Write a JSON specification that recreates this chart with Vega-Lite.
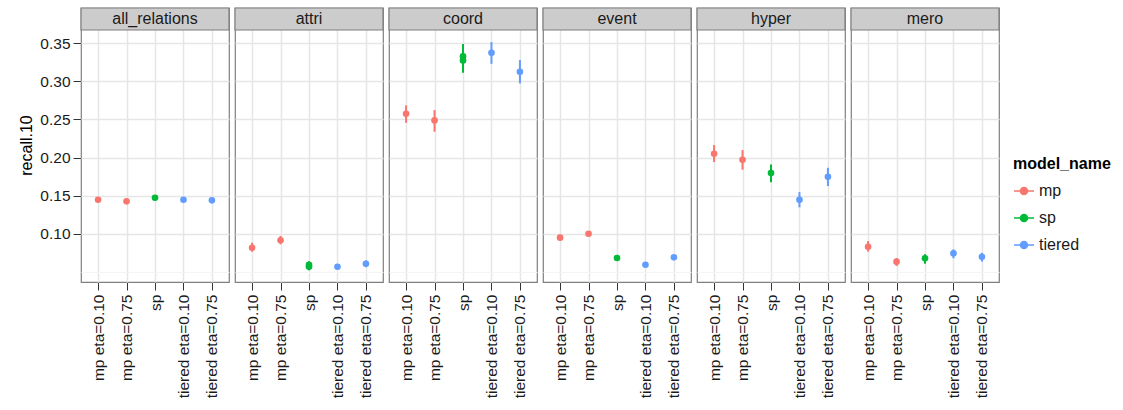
{
  "$schema": "https://vega.github.io/schema/vega-lite/v6.json",
  "padding": {"left": 18, "top": 6, "right": 5, "bottom": 2},
  "background": "white",
  "bounds": "flush",
  "data": {"values": [
      {"relation": "all_relations", "model": "mp eta=0.10", "model_name": "mp", "recall": 0.1446, "lo": 0.1428, "hi": 0.1464},
      {"relation": "all_relations", "model": "mp eta=0.75", "model_name": "mp", "recall": 0.1425, "lo": 0.1407, "hi": 0.1443},
      {"relation": "all_relations", "model": "sp", "model_name": "sp", "recall": 0.1473, "lo": 0.1456, "hi": 0.149},
      {"relation": "all_relations", "model": "tiered eta=0.10", "model_name": "tiered", "recall": 0.1446, "lo": 0.1429, "hi": 0.1463},
      {"relation": "all_relations", "model": "tiered eta=0.75", "model_name": "tiered", "recall": 0.1438, "lo": 0.1421, "hi": 0.1455},

      {"relation": "attri", "model": "mp eta=0.10", "model_name": "mp", "recall": 0.0816, "lo": 0.0764, "hi": 0.0882},
      {"relation": "attri", "model": "mp eta=0.75", "model_name": "mp", "recall": 0.0913, "lo": 0.086, "hi": 0.097},
      {"relation": "attri", "model": "sp", "model_name": "sp", "recall": 0.059, "lo": 0.053, "hi": 0.064},
      {"relation": "attri", "model": "sp", "model_name": "sp", "recall": 0.0565, "lo": 0.052, "hi": 0.062},
      {"relation": "attri", "model": "tiered eta=0.10", "model_name": "tiered", "recall": 0.0567, "lo": 0.0535, "hi": 0.06},
      {"relation": "attri", "model": "tiered eta=0.75", "model_name": "tiered", "recall": 0.0606, "lo": 0.056, "hi": 0.065},

      {"relation": "coord", "model": "mp eta=0.10", "model_name": "mp", "recall": 0.2575, "lo": 0.2457, "hi": 0.2685},
      {"relation": "coord", "model": "mp eta=0.75", "model_name": "mp", "recall": 0.2488, "lo": 0.2339, "hi": 0.2623},
      {"relation": "coord", "model": "sp", "model_name": "sp", "recall": 0.333, "lo": 0.318, "hi": 0.349},
      {"relation": "coord", "model": "sp", "model_name": "sp", "recall": 0.3276, "lo": 0.3113, "hi": 0.343},
      {"relation": "coord", "model": "tiered eta=0.10", "model_name": "tiered", "recall": 0.3375, "lo": 0.3231, "hi": 0.3516},
      {"relation": "coord", "model": "tiered eta=0.75", "model_name": "tiered", "recall": 0.3126, "lo": 0.2974, "hi": 0.328},

      {"relation": "event", "model": "mp eta=0.10", "model_name": "mp", "recall": 0.0948, "lo": 0.0915, "hi": 0.0985},
      {"relation": "event", "model": "mp eta=0.75", "model_name": "mp", "recall": 0.1, "lo": 0.097, "hi": 0.1035},
      {"relation": "event", "model": "sp", "model_name": "sp", "recall": 0.0681, "lo": 0.0655, "hi": 0.0705},
      {"relation": "event", "model": "tiered eta=0.10", "model_name": "tiered", "recall": 0.0593, "lo": 0.057, "hi": 0.0615},
      {"relation": "event", "model": "tiered eta=0.75", "model_name": "tiered", "recall": 0.069, "lo": 0.0655, "hi": 0.0725},

      {"relation": "hyper", "model": "mp eta=0.10", "model_name": "mp", "recall": 0.205, "lo": 0.1941, "hi": 0.2164},
      {"relation": "hyper", "model": "mp eta=0.75", "model_name": "mp", "recall": 0.1971, "lo": 0.184, "hi": 0.2098},
      {"relation": "hyper", "model": "sp", "model_name": "sp", "recall": 0.1797, "lo": 0.1675, "hi": 0.191},
      {"relation": "hyper", "model": "tiered eta=0.10", "model_name": "tiered", "recall": 0.1446, "lo": 0.1346, "hi": 0.1547},
      {"relation": "hyper", "model": "tiered eta=0.75", "model_name": "tiered", "recall": 0.1748, "lo": 0.1626, "hi": 0.1866},

      {"relation": "mero", "model": "mp eta=0.10", "model_name": "mp", "recall": 0.0829, "lo": 0.0764, "hi": 0.0904},
      {"relation": "mero", "model": "mp eta=0.75", "model_name": "mp", "recall": 0.0633, "lo": 0.0576, "hi": 0.068},
      {"relation": "mero", "model": "sp", "model_name": "sp", "recall": 0.0677, "lo": 0.0606, "hi": 0.073},
      {"relation": "mero", "model": "tiered eta=0.10", "model_name": "tiered", "recall": 0.0743, "lo": 0.0677, "hi": 0.0795},
      {"relation": "mero", "model": "tiered eta=0.75", "model_name": "tiered", "recall": 0.0698, "lo": 0.0633, "hi": 0.075}
  ]},
  "config": {
    "font": "Liberation Sans",
    "view": {"stroke": "#7F7F7F", "strokeWidth": 1.2},
    "axis": {
      "domain": false,
      "tickColor": "#333333",
      "labelColor": "#1A1A1A",
      "labelFontSize": 15.5,
      "titleFontSize": 16,
      "titleFontWeight": "normal",
      "titleColor": "#000000",
      "tickSize": 8,
      "gridColor": "#E6E6E6",
      "gridWidth": 1.5
    }
  },
  "facet": {"column": {"field": "relation", "type": "nominal", "header": null}},
  "spacing": 6,
  "spec": {
    "width": 148,
    "height": 274,
    "layer": [
      {
        "mark": {"type": "rule", "strokeWidth": 2},
        "encoding": {
          "x": {
            "field": "model",
            "type": "nominal",
            "scale": {"type": "point", "padding": 0.6},
            "axis": {"title": null, "labelAngle": -90, "grid": true, "labelPadding": 4}
          },
          "y": {
            "field": "lo",
            "type": "quantitative",
            "title": "recall.10",
            "scale": {"domain": [0.0366, 0.3964], "nice": false, "zero": false},
            "axis": {
              "title": "recall.10",
              "titlePadding": 5,
              "labelPadding": 3,
              "values": [0.05, 0.075, 0.1, 0.125, 0.15, 0.175, 0.2, 0.225, 0.25, 0.275, 0.3, 0.325, 0.35],
              "labelExpr": "(round(datum.value*40)%2==0 && datum.value>0.07) ? format(datum.value, '.2f') : ''",
              "gridColor": {"condition": {"test": "round(datum.value*40)%2==0 && datum.value>0.07", "value": "#E6E6E6"}, "value": "#F4F4F4"},
              "gridWidth": {"condition": {"test": "round(datum.value*40)%2==0 && datum.value>0.07", "value": 1.5}, "value": 1},
              "tickOpacity": {"condition": {"test": "round(datum.value*40)%2==0 && datum.value>0.07", "value": 1}, "value": 0}
            }
          },
          "y2": {"field": "hi"},
          "color": {
            "field": "model_name",
            "type": "nominal",
            "scale": {"domain": ["mp", "sp", "tiered"], "range": ["#F8766D", "#00BA38", "#619CFF"]},
            "legend": {
              "title": "model_name",
              "orient": "none",
              "legendX": 932,
              "legendY": 148,
              "titleFontSize": 16,
              "titleFontWeight": "bold",
              "titleColor": "#000000",
              "labelFontSize": 16,
              "labelColor": "#1A1A1A",
              "symbolType": "M-1,0L1,0M-0.35,0A0.35,0.35 0 1 1 0.35,0A0.35,0.35 0 1 1 -0.35,0Z",
              "symbolSize": 400,
              "symbolStrokeWidth": 1.5,
              "rowPadding": 8,
              "titlePadding": 8,
              "encode": {"symbols": {"update": {"stroke": {"scale": "color", "field": "value"}, "fill": {"scale": "color", "field": "value"}}}}
            }
          }
        }
      },
      {
        "mark": {"type": "point", "filled": true, "size": 44, "opacity": 1},
        "encoding": {
          "x": {"field": "model", "type": "nominal"},
          "y": {"field": "recall", "type": "quantitative", "title": "recall.10"},
          "color": {"field": "model_name", "type": "nominal"}
        }
      },
      {
        "transform": [{"aggregate": [{"op": "count", "as": "n"}], "groupby": ["relation"]}],
        "mark": {"type": "rect", "fill": "#CCCCCC", "stroke": "#7F7F7F", "strokeWidth": 1.2},
        "encoding": {
          "x": {"value": 0},
          "x2": {"value": "width"},
          "y": {"datum": 0.3964, "type": "quantitative"},
          "y2": {"datum": 0.3675}
        }
      },
      {
        "transform": [{"aggregate": [{"op": "count", "as": "n"}], "groupby": ["relation"]}],
        "mark": {"type": "text", "fontSize": 16, "color": "#1A1A1A", "baseline": "middle", "align": "center"},
        "encoding": {
          "y": {"datum": 0.382, "type": "quantitative"},
          "text": {"field": "relation", "type": "nominal"}
        }
      }
    ]
  }
}
